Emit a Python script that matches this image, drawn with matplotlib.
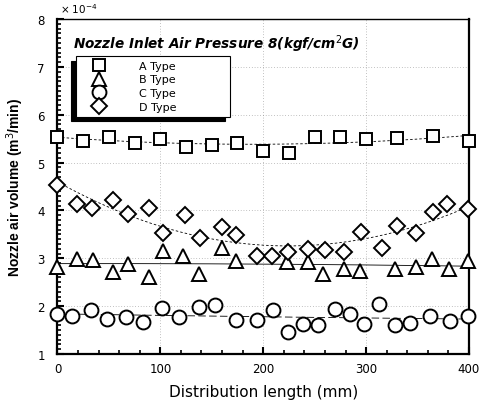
import matplotlib.pyplot as plt
import numpy as np
from matplotlib.ticker import MultipleLocator

plt.rcParams['font.family'] = ['DejaVu Sans']

# A type (squares)
a_x = [0, 25, 50, 75, 100, 125, 150, 175, 200, 225, 250, 275, 300, 330, 365, 400]
a_y = [5.54, 5.46, 5.54, 5.42, 5.49, 5.32, 5.37, 5.41, 5.24, 5.21, 5.54, 5.53, 5.49, 5.51, 5.55, 5.46]

# B type (triangles)
b_x = [0, 19, 35, 54, 69, 89, 103, 122, 138, 160, 174, 223, 244, 258, 279, 294, 328, 349, 364, 381, 399]
b_y = [2.81, 2.99, 2.96, 2.71, 2.88, 2.60, 3.15, 3.04, 2.67, 3.21, 2.95, 2.93, 2.92, 2.67, 2.78, 2.74,
       2.78, 2.81, 2.99, 2.78, 2.95]

# C type (circles)
c_x = [0, 14, 33, 48, 67, 83, 102, 118, 138, 153, 174, 194, 210, 224, 239, 253, 270, 284, 298, 313,
       328, 343, 362, 382, 399]
c_y = [1.84, 1.79, 1.91, 1.73, 1.78, 1.66, 1.96, 1.78, 1.98, 2.03, 1.72, 1.72, 1.91, 1.45, 1.63, 1.61,
       1.94, 1.84, 1.63, 2.05, 1.61, 1.65, 1.80, 1.68, 1.79]

# D type (diamonds)
d_x = [0, 19, 34, 54, 69, 89, 103, 124, 139, 160, 174, 194, 209, 224, 244, 260, 279, 295, 315, 330,
       349, 365, 379, 399]
d_y = [4.54, 4.13, 4.05, 4.22, 3.93, 4.05, 3.53, 3.90, 3.43, 3.66, 3.49, 3.04, 3.04, 3.14, 3.19, 3.18,
       3.14, 3.56, 3.22, 3.67, 3.53, 3.97, 4.13, 4.03]

fig = plt.figure(figsize=(4.79, 4.02), dpi=100)
ax = fig.add_axes([0.120, 0.117, 0.859, 0.833])

series = [
    (a_x, a_y, 's', 9.0, 'A Type', (0, (3, 2.5))),
    (b_x, b_y, '^', 9.5, 'B Type', '-'),
    (c_x, c_y, 'o', 10.0, 'C Type', (0, (9, 4))),
    (d_x, d_y, 'D', 8.5, 'D Type', (0, (3, 2.5))),
]

xs = np.linspace(0, 400, 200)
handles = []
for x, y, m, ms, lab, ls in series:
    # quadratic fit through each set
    p = np.polyfit(x, y, 2)
    ax.plot(xs, np.polyval(p, xs), color='k', lw=0.6, ls=ls, zorder=2)
    h, = ax.plot(x, y, ls='none', marker=m, ms=ms, mfc='white', mec='k', mew=1.4,
                 clip_on=False, zorder=3, label=lab)
    handles.append(h)

ax.set_xlim(0, 400)
ax.set_ylim(1, 8)
ax.xaxis.set_major_locator(MultipleLocator(100))
ax.xaxis.set_minor_locator(MultipleLocator(20))
ax.yaxis.set_major_locator(MultipleLocator(1))
ax.yaxis.set_minor_locator(MultipleLocator(0.1))
ax.tick_params(which='both', direction='in', top=False, right=False)
ax.tick_params(which='major', length=5, width=1.5, labelsize=8.5, pad=6)
ax.tick_params(which='minor', length=3, width=1.2)
ax.tick_params(axis='y', pad=9)
for s in ax.spines.values():
    s.set_linewidth(1.6)
ax.spines['top'].set_linewidth(1.0)
ax.grid(True, which='major', ls=(0, (1, 3)), lw=0.5, color='#888888')

ax.set_xlabel('Distribution length (mm)', fontsize=11, labelpad=6)
ax.set_ylabel('Nozzle air volume (m$^3$/min)', fontsize=10, fontweight='bold', labelpad=8,
              family='Liberation Sans')
ax.text(0.005, 1.012, r'× 10$^{-4}$', transform=ax.transAxes, fontsize=7.5, ha='left', va='bottom')
ax.text(0.037, 0.928, 'Nozzle Inlet Air Pressure 8(kgf/cm$^2$G)', transform=ax.transAxes,
        fontsize=9.8, fontweight='bold', fontstyle='italic', ha='left', va='center')

leg = ax.legend(handles=handles, loc='upper left', bbox_to_anchor=(0.045, 0.707, 0.374, 0.183),
                mode='expand', borderaxespad=0, fancybox=False, edgecolor='k', framealpha=1,
                prop={'size': 8}, handlelength=3.3, handletextpad=1.9, labelspacing=0.32,
                borderpad=0.45, shadow={'ox': -3.5, 'oy': -3.5, 'color': 'k', 'alpha': 1})
leg.get_frame().set_linewidth(0.8)
leg.set_zorder(5)

fig.savefig('out.png', dpi=100)
